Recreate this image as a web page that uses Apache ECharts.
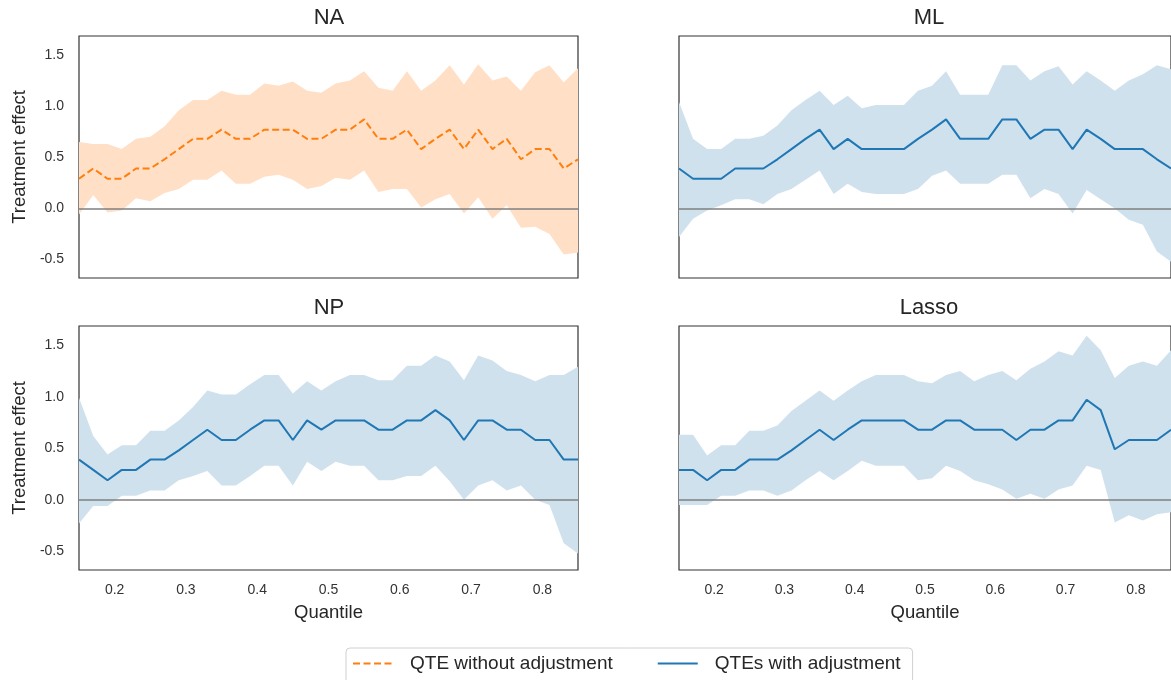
<!DOCTYPE html>
<html>
<head>
<meta charset="utf-8">
<script src="https://cdn.jsdelivr.net/npm/echarts@6/dist/echarts.min.js"></script>
<style>
  html, body { margin: 0; padding: 0; background: #fff; }
  #chart { width: 1171px; height: 680px; }
</style>
</head>
<body>
<div id="chart"></div>
<script>
// ---- data ----
const quantiles = [0.15,0.17,0.19,0.21,0.23,0.25,0.27,0.29,0.31,0.33,0.35,0.37,0.39,0.41,0.43,0.45,0.47,0.49,0.51,0.53,0.55,0.57,0.59,0.61,0.63,0.65,0.67,0.69,0.71,0.73,0.75,0.77,0.79,0.81,0.83,0.85];
const panelTitles = ['NA', 'ML', 'NP', 'Lasso'];
const xTickValues = [0.2, 0.3, 0.4, 0.5, 0.6, 0.7, 0.8];
const yTickValues = [-0.5, 0.0, 0.5, 1.0, 1.5];
const legendNames = ['QTE without adjustment', 'QTEs with adjustment'];

const naMean  = [0.29,0.39,0.29,0.29,0.39,0.39,0.48,0.58,0.68,0.68,0.77,0.68,0.68,0.77,0.77,0.77,0.68,0.68,0.77,0.77,0.87,0.68,0.68,0.77,0.58,0.68,0.77,0.58,0.77,0.58,0.68,0.48,0.58,0.58,0.39,0.48];
const naUpper = [0.65,0.63,0.63,0.58,0.68,0.70,0.80,0.96,1.06,1.06,1.15,1.11,1.11,1.22,1.20,1.24,1.15,1.13,1.22,1.25,1.34,1.18,1.15,1.34,1.15,1.25,1.40,1.21,1.41,1.25,1.29,1.15,1.33,1.40,1.23,1.37];
const naLower = [-0.06,0.13,-0.04,-0.02,0.10,0.07,0.15,0.19,0.28,0.28,0.37,0.24,0.24,0.31,0.33,0.28,0.19,0.22,0.30,0.28,0.37,0.16,0.19,0.19,0.01,0.09,0.14,-0.05,0.11,-0.10,0.03,-0.19,-0.18,-0.25,-0.45,-0.43];

const mlMean  = [0.39,0.29,0.29,0.29,0.39,0.39,0.39,0.48,0.58,0.68,0.77,0.58,0.68,0.58,0.58,0.58,0.58,0.68,0.77,0.87,0.68,0.68,0.68,0.87,0.87,0.68,0.77,0.77,0.58,0.77,0.68,0.58,0.58,0.58,0.48,0.39];
const mlUpper = [1.04,0.68,0.58,0.58,0.68,0.68,0.71,0.81,0.96,1.06,1.15,1.01,1.10,0.98,1.01,1.01,1.01,1.15,1.20,1.34,1.11,1.11,1.11,1.40,1.40,1.25,1.34,1.39,1.21,1.34,1.25,1.15,1.25,1.31,1.40,1.36];
const mlLower = [-0.28,-0.10,-0.02,0.03,0.09,0.09,0.04,0.14,0.19,0.28,0.37,0.14,0.24,0.16,0.14,0.14,0.14,0.19,0.32,0.37,0.24,0.24,0.24,0.33,0.33,0.10,0.19,0.14,-0.05,0.18,0.09,0.00,-0.11,-0.16,-0.42,-0.52];

const npMean  = [0.39,0.29,0.19,0.29,0.29,0.39,0.39,0.48,0.58,0.68,0.58,0.58,0.68,0.77,0.77,0.58,0.77,0.68,0.77,0.77,0.77,0.68,0.68,0.77,0.77,0.87,0.77,0.58,0.77,0.77,0.68,0.68,0.58,0.58,0.39,0.39];
const npUpper = [0.99,0.62,0.44,0.53,0.53,0.67,0.67,0.77,0.90,1.06,1.02,1.02,1.12,1.21,1.21,1.03,1.15,1.06,1.15,1.21,1.21,1.16,1.16,1.30,1.30,1.40,1.34,1.16,1.40,1.35,1.25,1.21,1.15,1.21,1.21,1.29];
const npLower = [-0.23,-0.06,-0.06,0.04,0.04,0.09,0.09,0.19,0.23,0.28,0.14,0.14,0.23,0.33,0.33,0.14,0.37,0.28,0.37,0.33,0.33,0.19,0.19,0.23,0.23,0.33,0.18,0.00,0.14,0.19,0.09,0.14,0.00,-0.05,-0.42,-0.52];

const lassoMean  = [0.29,0.29,0.19,0.29,0.29,0.39,0.39,0.39,0.48,0.58,0.68,0.58,0.68,0.77,0.77,0.77,0.77,0.68,0.68,0.77,0.77,0.68,0.68,0.68,0.58,0.68,0.68,0.77,0.77,0.97,0.87,0.49,0.58,0.58,0.58,0.68];
const lassoUpper = [0.63,0.63,0.43,0.53,0.53,0.67,0.67,0.72,0.86,0.96,1.06,0.96,1.06,1.15,1.21,1.21,1.21,1.15,1.13,1.21,1.25,1.15,1.21,1.25,1.16,1.27,1.34,1.44,1.40,1.59,1.45,1.18,1.30,1.34,1.30,1.45];
const lassoLower = [-0.05,-0.05,-0.05,0.04,0.04,0.09,0.09,0.04,0.09,0.19,0.28,0.19,0.28,0.38,0.33,0.33,0.33,0.19,0.21,0.33,0.28,0.19,0.15,0.10,0.01,0.06,0.01,0.10,0.14,0.33,0.29,-0.22,-0.15,-0.20,-0.14,-0.12];

// ---- layout / style ----
const FONT = '"Liberation Sans", Arial, Helvetica, sans-serif';
const TXT = '#262626';
const ORANGE = '#ff7f0e';
const BLUE = '#1f77b4';

const panels = [
  { mean: naMean, upper: naUpper, lower: naLower, line: ORANGE, fill: '#ffdfc5', dashed: true,  legend: legendNames[0] },
  { mean: mlMean, upper: mlUpper, lower: mlLower, line: BLUE, fill: '#d0e1ee', dashed: false, legend: legendNames[1] },
  { mean: npMean, upper: npUpper, lower: npLower, line: BLUE, fill: '#d0e1ee', dashed: false, legend: legendNames[1] },
  { mean: lassoMean, upper: lassoUpper, lower: lassoLower, line: BLUE, fill: '#d0e1ee', dashed: false, legend: legendNames[1] }
];

const gridPos = [
  { left: 79, top: 36, width: 499, height: 242 },
  { left: 679, top: 36, width: 499, height: 242 },
  { left: 79, top: 326, width: 499, height: 244 },
  { left: 679, top: 326, width: 499, height: 244 }
];

const grids = gridPos.map(g => Object.assign({
  show: true, borderColor: '#333', borderWidth: 1.2, backgroundColor: 'transparent', containLabel: false
}, g));

const xAxes = gridPos.map((g, i) => ({
  type: 'value', gridIndex: i, min: 0.15, max: 0.85,
  axisLine: { show: false }, axisTick: { show: false }, splitLine: { show: false },
  axisLabel: {
    show: i >= 2, customValues: xTickValues, margin: 13,
    formatter: v => v.toFixed(1), color: '#333', fontSize: 14, fontFamily: FONT
  },
  name: i >= 2 ? 'Quantile' : '', nameLocation: 'middle', nameGap: 33,
  nameTextStyle: { color: TXT, fontSize: 18.5, fontFamily: FONT }
}));

const yAxes = gridPos.map((g, i) => ({
  type: 'value', gridIndex: i, min: -0.68, max: 1.685,
  axisLine: { show: false }, axisTick: { show: false }, splitLine: { show: false },
  axisLabel: {
    show: i % 2 === 0, customValues: yTickValues, margin: 15,
    formatter: v => v.toFixed(1), color: '#333', fontSize: 14, fontFamily: FONT
  },
  name: i % 2 === 0 ? 'Treatment effect' : '', nameLocation: 'middle', nameGap: 50,
  nameTextStyle: { color: TXT, fontSize: 18.5, fontFamily: FONT }
}));

function bandRenderer(p) {
  return function (params, api) {
    if (params.dataIndex !== 0) return null;
    const top = quantiles.map((q, k) => api.coord([q, p.upper[k]]));
    const bottom = quantiles.map((q, k) => api.coord([q, p.lower[k]])).reverse();
    return {
      type: 'polygon',
      shape: { points: top.concat(bottom) },
      style: { fill: p.fill, stroke: null }
    };
  };
}

const series = [];
panels.forEach((p, i) => {
  const meanPts = quantiles.map((q, k) => [q, p.mean[k]]);
  series.push({
    type: 'custom', name: 'band-' + i, xAxisIndex: i, yAxisIndex: i,
    data: quantiles.map((q, k) => [q, p.lower[k], p.upper[k]]),
    encode: { x: 0, y: [1, 2] },
    renderItem: bandRenderer(p), silent: true, z: 1, clip: false
  });
  series.push({
    type: 'line', name: 'zero-' + i, xAxisIndex: i, yAxisIndex: i,
    data: [], silent: true, z: 2,
    markLine: {
      silent: true, symbol: 'none', label: { show: false },
      lineStyle: { color: '#7f7f7f', width: 1.6, type: 'solid' },
      data: [{ yAxis: 0 }], animation: false
    }
  });
  series.push({
    type: 'line', name: p.legend, xAxisIndex: i, yAxisIndex: i,
    data: meanPts, symbol: 'none', showSymbol: false, z: 3, color: p.line,
    lineStyle: { color: p.line, width: 2, type: p.dashed ? [7, 3.5] : 'solid' }
  });
});

const titleGraphics = panelTitles.map((t, i) => ({
  type: 'text',
  x: gridPos[i].left + 250,
  y: gridPos[i].top - 18,
  style: { text: t, fill: TXT, font: '22px ' + FONT, align: 'center', verticalAlign: 'middle' },
  silent: true
}));

const chart = echarts.init(document.getElementById('chart'), null, { renderer: 'canvas' });
chart.setOption({
  animation: false,
  backgroundColor: '#fff',
  grid: grids,
  xAxis: xAxes,
  yAxis: yAxes,
  graphic: titleGraphics,
  legend: {
    data: legendNames,
    left: 346, top: 648,
    orient: 'horizontal',
    backgroundColor: '#fff',
    borderColor: '#d0d0d0', borderWidth: 1, borderRadius: 4,
    padding: [6, 12, 12, 6],
    itemWidth: 40, itemHeight: 12, itemGap: 44,
    itemStyle: { opacity: 0 },
    formatter: name => '{t|' + name + '}',
    textStyle: {
      color: TXT, fontSize: 19, fontFamily: FONT,
      rich: { t: { padding: [0, 0, 0, 12], fontSize: 19, fontFamily: FONT, color: TXT } }
    }
  },
  series: series
});
</script>
</body>
</html>
